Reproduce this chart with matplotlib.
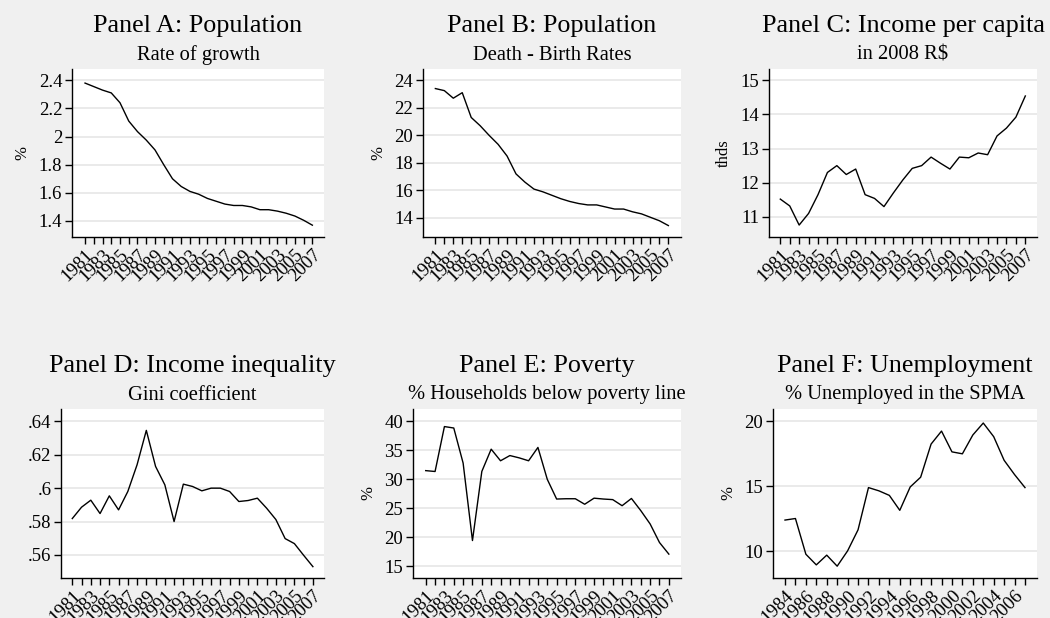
import matplotlib
matplotlib.use("Agg")
import matplotlib.pyplot as plt
from matplotlib.ticker import FuncFormatter

# dados
YEARS = list(range(1981, 2008))
YEARS_F = list(range(1984, 2008))

pop_growth = [2.38, 2.355, 2.33, 2.31, 2.24, 2.11, 2.035, 1.975, 1.905, 1.80,
              1.70, 1.645, 1.61, 1.59, 1.56, 1.54, 1.52, 1.51, 1.51, 1.50,
              1.48, 1.48, 1.47, 1.455, 1.435, 1.405, 1.37]
death_birth = [23.4, 23.25, 22.7, 23.1, 21.3, 20.7, 20.0, 19.35, 18.5, 17.2,
               16.6, 16.1, 15.9, 15.65, 15.4, 15.2, 15.05, 14.95, 14.95, 14.8,
               14.65, 14.65, 14.45, 14.3, 14.05, 13.8, 13.45]
income_pc = [11.52, 11.32, 10.76, 11.1, 11.65, 12.3, 12.5, 12.24, 12.4, 11.65,
             11.54, 11.3, 11.7, 12.08, 12.42, 12.5, 12.75, 12.57, 12.4, 12.75,
             12.73, 12.87, 12.82, 13.37, 13.6, 13.92, 14.54]
gini = [.5818, .5886, .5928, .5848, .5954, .587, .598, .614, .6346, .613,
        .602, .580, .6024, .601, .5984, .600, .600, .598, .592, .5926,
        .594, .588, .5812, .5698, .5668, .5598, .553]
poverty = [31.5, 31.35, 39.1, 38.85, 32.8, 19.44, 31.36, 35.2, 33.2, 34.1,
           33.7, 33.2, 35.5, 30.0, 26.6, 26.65, 26.65, 25.7, 26.75, 26.6,
           26.5, 25.45, 26.7, 24.6, 22.3, 19.1, 17.1]
unemp = [12.4, 12.52, 9.77, 8.95, 9.7, 8.85, 10.03, 11.65, 14.9, 14.65,
         14.3, 13.15, 14.95, 15.7, 18.25, 19.25, 17.65, 17.5, 18.95, 19.87,
         18.82, 17.0, 15.9, 14.9]

BG = "#f0f0f0"
GRID = "#e6e6e6"
W, H = 1050, 618

# (título, subtítulo, ylabel, x, y, yticks, ylim, xlim, xlabels, caixa em px [x0, y0, x1, y1])
PANELS = [
    ("Panel A: Population", "Rate of growth", "%", YEARS, pop_growth,
     [1.4, 1.6, 1.8, 2.0, 2.2, 2.4], (1.286, 2.48), (1979.51, 2008.33), range(1981, 2008, 2),
     (72, 69, 324, 237)),
    ("Panel B: Population", "Death - Birth Rates", "%", YEARS, death_birth,
     [14, 16, 18, 20, 22, 24], (12.62, 24.82), (1979.62, 2008.41), range(1981, 2008, 2),
     (423, 69, 681, 237)),
    ("Panel C: Income per capita", "in 2008 R$", "thds", YEARS, income_pc,
     [11, 12, 13, 14, 15], (10.41, 15.33), (1979.8, 2008.24), range(1981, 2008, 2),
     (769, 69, 1037, 237)),
    ("Panel D: Income inequality", "Gini coefficient", "", YEARS, gini,
     [.56, .58, .60, .62, .64], (.5462, .6474), (1979.78, 2008.2), range(1981, 2008, 2),
     (61, 409, 324, 578)),
    ("Panel E: Poverty", "% Households below poverty line", "%", YEARS, poverty,
     [15, 20, 25, 30, 35, 40], (12.98, 42.13), (1979.64, 2008.3), range(1981, 2008, 2),
     (413, 409, 681, 578)),
    ("Panel F: Unemployment", "% Unemployed in the SPMA", "%", YEARS_F, unemp,
     [10, 15, 20], (7.94, 20.95), (1982.85, 2008.15), range(1984, 2007, 2),
     (773, 409, 1037, 578)),
]


def yfmt(v, _):
    s = "%g" % round(v, 4)
    if s.startswith("0."):
        s = s[1:]
    return s


def main():
    plt.rcParams["font.family"] = ["Liberation Serif", "DejaVu Serif"]
    fig = plt.figure(figsize=(W / 100, H / 100), dpi=100, facecolor=BG)

    for title, sub, ylab, xs, ys, yt, ylim, xlim, xlab, (x0, y0, x1, y1) in PANELS:
        ax = fig.add_axes([x0 / W, 1 - y1 / H, (x1 - x0) / W, (y1 - y0) / H])
        ax.set_facecolor("white")
        ax.plot(xs, ys, color="black", lw=1.0, zorder=3)
        ax.set_xlim(*xlim)
        ax.set_ylim(*ylim)
        ax.set_yticks(yt)
        ax.yaxis.set_major_formatter(FuncFormatter(yfmt))
        ax.set_xticks(list(range(xs[0], xs[-1] + 1)))
        ax.set_xticklabels([str(y) if y in xlab else "" for y in range(xs[0], xs[-1] + 1)],
                           rotation=45, ha="right", rotation_mode="anchor")
        ax.grid(axis="y", color=GRID, lw=1.2, zorder=0)
        for s in ("top", "right"):
            ax.spines[s].set_visible(False)
        for s in ("left", "bottom"):
            ax.spines[s].set_linewidth(1.0)
        ax.tick_params(axis="y", labelsize=13.5, length=5, width=1.0, pad=2)
        ax.tick_params(axis="x", labelsize=13.5, length=5, width=1.0, pad=2)
        ax.set_ylabel(ylab, fontsize=12, labelpad=6)

        cx = (x0 + x1) / 2 / W
        fig.text(cx, 1 - (y0 - 43) / H, title, fontsize=18.8, ha="center", va="center")
        fig.text(cx, 1 - (y0 - 14) / H, sub, fontsize=14.8, ha="center", va="center")

    fig.savefig("out.png", dpi=100, facecolor=BG)
    plt.close(fig)


if __name__ == "__main__":
    main()
